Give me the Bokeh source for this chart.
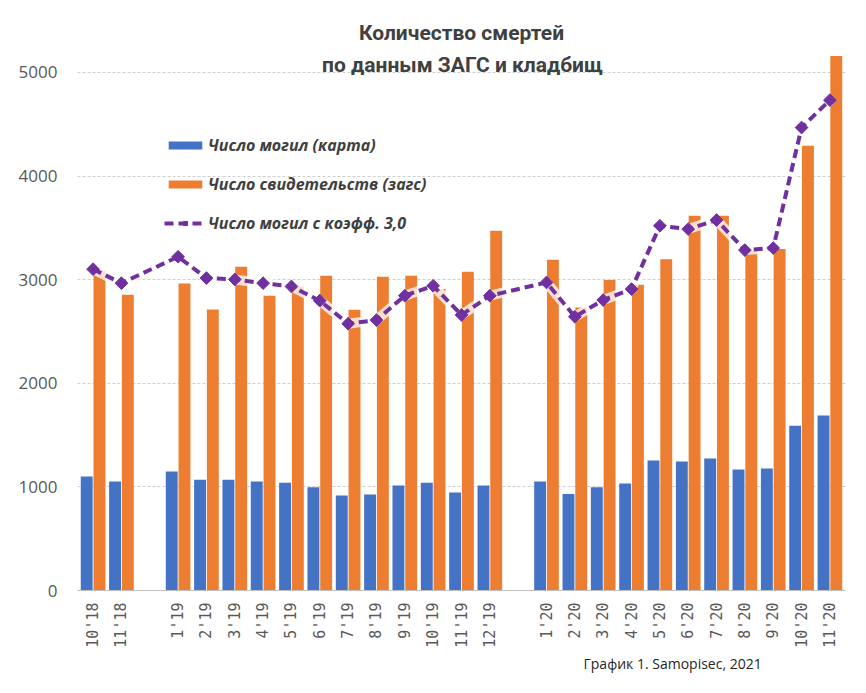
import numpy as np
from bokeh.plotting import figure
from bokeh.models import (ColumnDataSource, FixedTicker, Label, Legend, LegendItem, Range1d, Title)
from bokeh.transform import dodge
from bokeh.embed import file_html
from bokeh.resources import INLINE

# ---------------- data ----------------
title_lines = ["Количество смертей", "по данным ЗАГС и кладбищ"]
caption = "График 1. Samopisec, 2021"
series_names = ["Число могил (карта)", "Число свидетельств (загс)", "Число могил с коэфф. 3,0"]

# "" marks an empty slot on the category axis
slots = ["10'18", "11'18", "",
         "1'19", "2'19", "3'19", "4'19", "5'19", "6'19", "7'19", "8'19", "9'19", "10'19", "11'19", "12'19", "",
         "1'20", "2'20", "3'20", "4'20", "5'20", "6'20", "7'20", "8'20", "9'20", "10'20", "11'20"]

graves = [1099, 1051,
          1148, 1070, 1070, 1051, 1041, 996, 916, 926, 1013, 1041, 945, 1013,
          1051, 932, 996, 1032, 1254, 1244, 1273, 1167, 1177, 1591, 1688]

certificates = [3086, 2854,
                2963, 2713, 3124, 2845, 2932, 3038, 2710, 3028, 3038, 2909, 3076, 3472,
                3192, 2732, 2996, 2951, 3198, 3616, 3616, 3279, 3295, 4291, 5159]

graves_coef = [3101, 2966,
               3221, 3015, 3002, 2966, 2934, 2797, 2575, 2610, 2845, 2941, 2659, 2845,
               2973, 2642, 2803, 2909, 3520, 3488, 3575, 3285, 3305, 4468, 4732]

y_ticks = [0, 1000, 2000, 3000, 4000, 5000]

# ---------------- build ----------------
months = [s for s in slots if s]
xs = [i for i, s in enumerate(slots) if s]

src = ColumnDataSource(dict(x=xs, month=months, graves=graves,
                            certs=certificates, coef=graves_coef))

BLUE = "#4472C4"
ORANGE = "#ED7D31"
PURPLE = "#7030A0"
GRAY_TXT = "#595959"

p = figure(width=850, height=677,
           x_range=Range1d(-0.55, len(slots) - 1 + 0.55),
           y_range=Range1d(0, 5250),
           output_backend="svg", toolbar_location=None, title=None,
           min_border_left=77, min_border_right=5,
           min_border_top=46, min_border_bottom=87)

p.outline_line_color = None
p.background_fill_color = "white"
p.border_fill_color = "white"
p.xgrid.visible = False
p.ygrid.ticker = FixedTicker(ticks=y_ticks)
p.ygrid.grid_line_color = "#cfcfcf"
p.ygrid.grid_line_dash = "3 2"
p.ygrid.grid_line_width = 1

# y axis
p.yaxis.ticker = FixedTicker(ticks=y_ticks)
p.yaxis.axis_line_color = None
p.yaxis.major_tick_line_color = None
p.yaxis.minor_tick_line_color = None
p.yaxis.major_label_text_color = GRAY_TXT
p.yaxis.major_label_text_font = "Open Sans"
p.yaxis.major_label_text_font_size = "17px"
p.yaxis.major_label_standoff = 14

# x axis
p.xaxis.ticker = FixedTicker(ticks=xs)
p.xaxis.major_label_overrides = {x: m for x, m in zip(xs, months)}
p.xaxis.major_label_orientation = np.pi / 2
p.xaxis.axis_line_color = "#bfbfbf"
p.xaxis.axis_line_width = 1
p.xaxis.major_tick_line_color = None
p.xaxis.minor_tick_line_color = None
p.xaxis.major_label_text_color = GRAY_TXT
p.xaxis.major_label_text_font = "DejaVu Sans Mono"
p.xaxis.major_label_text_font_size = "15px"
p.xaxis.major_label_standoff = 6

# bars
r_blue = p.vbar(x=dodge("x", -0.225), top="graves", width=0.42, bottom=0,
                fill_color=BLUE, line_color=None, source=src)
r_orange = p.vbar(x=dodge("x", 0.225), top="certs", width=0.42, bottom=0,
                  fill_color=ORANGE, line_color=None, source=src)

# line with soft white halo
p.line("x", "coef", line_color="white", line_width=10, line_alpha=0.75, source=src)
r_line = p.line("x", "coef", line_color=PURPLE, line_width=4, line_dash="9 5", source=src)
r_pts = p.scatter("x", "coef", marker="square", angle=np.pi / 4, size=9,
                  fill_color=PURPLE, line_color=PURPLE, source=src)

# legend
legend = Legend(items=[LegendItem(label=series_names[0], renderers=[r_blue]),
                       LegendItem(label=series_names[1], renderers=[r_orange]),
                       LegendItem(label=series_names[2], renderers=[r_line, r_pts])],
                location=(87, 356), orientation="vertical",
                glyph_width=42, glyph_height=10, label_height=20,
                label_standoff=2, spacing=17, padding=0, margin=0,
                border_line_color=None, background_fill_alpha=0,
                label_text_font="Open Sans", label_text_font_style="bold italic",
                label_text_font_size="16px", label_text_color="#404040")
p.add_layout(legend, "center")

# title: first line above the frame, second line inside it
p.add_layout(Title(text=title_lines[0], align="center", offset=1, standoff=3,
                   text_font="Roboto", text_font_style="bold",
                   text_font_size="21px", text_color="#404040"), "above")
title_x = (462 - 92.5) / 28.35
p.add_layout(Label(x=title_x, y=5075, text=title_lines[1], text_align="center",
                   text_baseline="middle", text_font="Roboto", text_font_style="bold",
                   text_font_size="21px", text_color="#404040"))

# caption below the axis
p.add_layout(Title(text=caption, align="left", offset=506, standoff=2,
                   text_font="Open Sans", text_font_style="normal",
                   text_font_size="14px", text_color="#262626"), "below")

open("out.html", "w").write(file_html(p, INLINE))
